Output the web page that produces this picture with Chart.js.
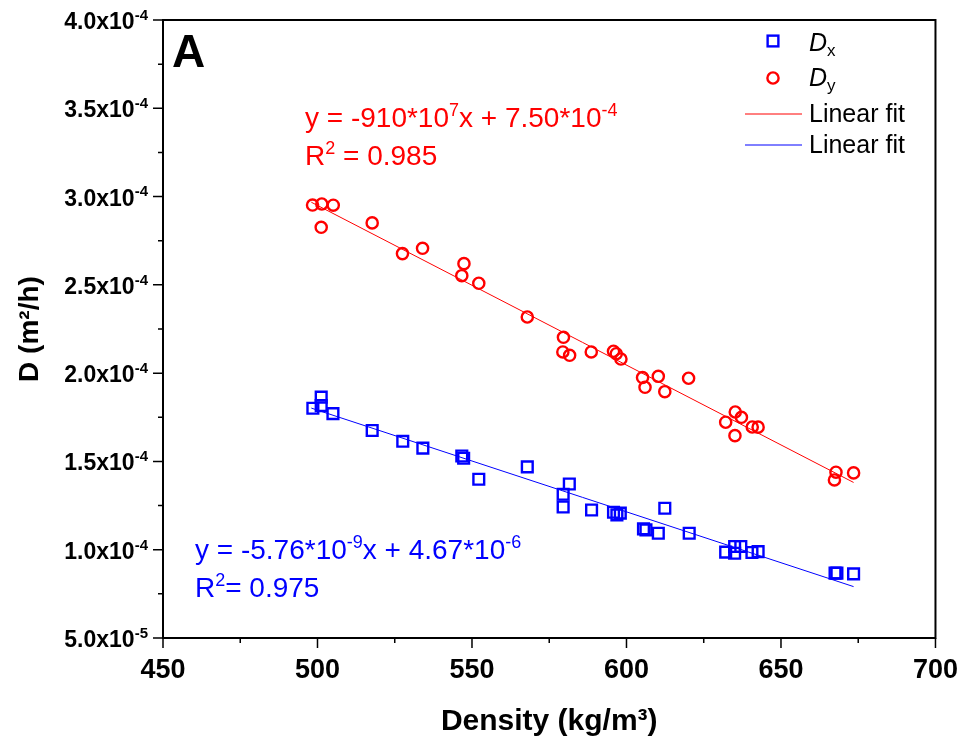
<!DOCTYPE html>
<html>
<head>
<meta charset="utf-8">
<script src="https://cdn.jsdelivr.net/npm/chart.js@4.4.1/dist/chart.umd.min.js"></script>
<style>
html, body { margin: 0; padding: 0; background: #fff; }
#wrap { width: 974px; height: 749px; }
</style>
</head>
<body>
<div id="wrap"><canvas id="myChart" width="974" height="749"></canvas></div>
<script>
// D_x (blue squares)
const densityDx = [498.5, 501.2, 501.2, 505.0, 517.7, 527.6, 534.1, 546.7, 547.3, 552.2, 567.9,
  581.5, 579.5, 579.5, 588.7, 595.8, 596.9, 598.0, 612.4, 605.5, 606.3, 610.3, 620.3,
  632.1, 635.0, 637.0, 635.0, 640.6, 642.6, 667.5, 668.1, 673.5];
const dxValues = [1.801e-4, 1.864e-4, 1.816e-4, 1.771e-4, 1.675e-4, 1.614e-4, 1.575e-4, 1.531e-4, 1.518e-4, 1.399e-4, 1.469e-4,
  1.372e-4, 1.314e-4, 1.242e-4, 1.225e-4, 1.212e-4, 1.197e-4, 1.207e-4, 1.235e-4, 1.118e-4, 1.112e-4, 1.093e-4, 1.093e-4,
  0.986e-4, 1.018e-4, 1.018e-4, 0.980e-4, 0.984e-4, 0.989e-4, 0.867e-4, 0.867e-4, 0.863e-4];

// D_y (red circles)
const densityDy = [498.4, 501.4, 505.1, 501.2, 517.7, 527.5, 534.0, 547.4, 546.7, 552.2, 567.9,
  579.6, 579.4, 581.6, 588.6, 595.8, 596.7, 598.2, 605.2, 606.0, 610.3, 612.4, 620.1,
  632.1, 635.2, 637.2, 635.1, 640.7, 642.6, 667.8, 667.3, 673.5];
const dyValues = [2.952e-4, 2.958e-4, 2.951e-4, 2.826e-4, 2.851e-4, 2.677e-4, 2.707e-4, 2.620e-4, 2.552e-4, 2.509e-4, 2.318e-4,
  2.203e-4, 2.120e-4, 2.101e-4, 2.120e-4, 2.124e-4, 2.110e-4, 2.080e-4, 1.975e-4, 1.920e-4, 1.982e-4, 1.895e-4, 1.971e-4,
  1.722e-4, 1.780e-4, 1.750e-4, 1.646e-4, 1.695e-4, 1.694e-4, 1.439e-4, 1.395e-4, 1.435e-4];

// linear fits (end points)
const fitDyX = [498, 673.5];
const fitDyY = [2.968e-4, 1.381e-4];
const fitDxX = [498, 673.5];
const fitDxY = [1.802e-4, 0.791e-4];

// axes
const xTicks = [450, 500, 550, 600, 650, 700];
const yTicks = [0.5e-4, 1.0e-4, 1.5e-4, 2.0e-4, 2.5e-4, 3.0e-4, 3.5e-4, 4.0e-4];
const yTickLabels = ['5.0x10', '1.0x10', '1.5x10', '2.0x10', '2.5x10', '3.0x10', '3.5x10', '4.0x10'];
const yTickExps = ['-5', '-4', '-4', '-4', '-4', '-4', '-4', '-4'];

const FONT = "'Liberation Sans', Arial, sans-serif";
const RED = '#FF0000';
const BLUE = '#0000FF';

function toPoints(xs, ys) {
  return xs.map((x, i) => ({ x: x, y: ys[i] }));
}

// draw a run of text pieces: [text, kind, italic] kind 0 normal, 1 superscript, 2 subscript
function drawRich(ctx, parts, x, y, size, opts) {
  opts = opts || {};
  let cx = x;
  parts.forEach(p => {
    const kind = p[1] || 0;
    const s = kind ? Math.round(size * 0.66) : size;
    const style = (p[2] ? 'italic ' : '') + (opts.bold ? 'bold ' : '');
    ctx.font = style + s + 'px ' + FONT;
    let yy = y;
    if (kind === 1) yy = y - size * 0.4;
    if (kind === 2) yy = y + size * 0.2;
    if (!opts.measure) ctx.fillText(p[0], cx, yy);
    cx += ctx.measureText(p[0]).width;
  });
  return cx - x;
}

const decorPlugin = {
  id: 'decor',
  afterDraw(chart) {
    const ctx = chart.ctx;
    const area = chart.chartArea;
    const xs = chart.scales.x;
    const ys = chart.scales.y;
    const ds = chart.data.datasets;
    ctx.save();
    ctx.strokeStyle = '#000';
    ctx.fillStyle = '#000';
    ctx.lineWidth = 2;
    ctx.strokeRect(area.left, area.top, area.right - area.left, area.bottom - area.top);

    // ticks
    ctx.lineWidth = 1.5;
    ctx.beginPath();
    xTicks.forEach((v, i) => {
      const px = xs.getPixelForValue(v);
      ctx.moveTo(px, area.bottom);
      ctx.lineTo(px, area.bottom + 10);
      if (i < xTicks.length - 1) {
        const mx = xs.getPixelForValue((v + xTicks[i + 1]) / 2);
        ctx.moveTo(mx, area.bottom);
        ctx.lineTo(mx, area.bottom + 5);
      }
    });
    yTicks.forEach((v, i) => {
      const py = ys.getPixelForValue(v);
      ctx.moveTo(area.left, py);
      ctx.lineTo(area.left - 10, py);
      if (i < yTicks.length - 1) {
        const my = ys.getPixelForValue((v + yTicks[i + 1]) / 2);
        ctx.moveTo(area.left, my);
        ctx.lineTo(area.left - 5, my);
      }
    });
    ctx.stroke();

    // y tick labels with superscripts
    ctx.textAlign = 'left';
    ctx.textBaseline = 'alphabetic';
    yTicks.forEach((v, i) => {
      const py = ys.getPixelForValue(v);
      const parts = [[yTickLabels[i], 0], [yTickExps[i], 1]];
      const w = drawRich(ctx, parts, 0, 0, 23, { bold: true, measure: true });
      drawRich(ctx, parts, area.left - 15 - w, py + 9, 23, { bold: true });
    });

    // panel letter
    ctx.font = 'bold 46px ' + FONT;
    ctx.fillText('A', 172, 67);

    // fit equations
    ctx.fillStyle = RED;
    drawRich(ctx, [['y = -910*10', 0], ['7', 1], ['x + 7.50*10', 0], ['-4', 1]], 305, 127, 28);
    drawRich(ctx, [['R', 0], ['2', 1], [' = 0.985', 0]], 305, 165, 28);
    ctx.fillStyle = BLUE;
    drawRich(ctx, [['y = -5.76*10', 0], ['-9', 1], ['x + 4.67*10', 0], ['-6', 1]], 195, 559, 28);
    drawRich(ctx, [['R', 0], ['2', 1], ['= 0.975', 0]], 195, 597, 28);

    // legend
    const half = ds[0].pointRadius * Math.SQRT1_2;
    ctx.strokeStyle = BLUE;
    ctx.lineWidth = ds[0].borderWidth;
    ctx.strokeRect(773 - half, 41 - half, half * 2, half * 2);
    ctx.beginPath();
    ctx.strokeStyle = RED;
    ctx.lineWidth = ds[1].borderWidth;
    ctx.arc(773, 78, ds[1].pointRadius, 0, Math.PI * 2);
    ctx.stroke();
    ctx.fillStyle = '#000';
    drawRich(ctx, [['D', 0, true], ['x', 2]], 809, 51, 25);
    drawRich(ctx, [['D', 0, true], ['y', 2]], 809, 86, 25);
    ctx.lineWidth = 1;
    ctx.strokeStyle = RED;
    ctx.beginPath(); ctx.moveTo(745, 114); ctx.lineTo(802, 114); ctx.stroke();
    ctx.strokeStyle = BLUE;
    ctx.beginPath(); ctx.moveTo(745, 145); ctx.lineTo(802, 145); ctx.stroke();
    ctx.font = '25px ' + FONT;
    ctx.fillText('Linear fit', 809, 122);
    ctx.fillText('Linear fit', 809, 153);
    ctx.restore();
  }
};

const ctx = document.getElementById('myChart').getContext('2d');
const myChart = new Chart(ctx, {
  type: 'scatter',
  data: {
    datasets: [{
      label: 'Dx',
      data: toPoints(densityDx, dxValues),
      pointStyle: 'rect',
      pointRadius: 7.6,
      borderColor: BLUE,
      backgroundColor: 'rgba(0,0,0,0)',
      borderWidth: 2.4
    }, {
      label: 'Dy',
      data: toPoints(densityDy, dyValues),
      pointStyle: 'circle',
      pointRadius: 5.6,
      borderColor: RED,
      backgroundColor: 'rgba(0,0,0,0)',
      borderWidth: 2.4
    }, {
      type: 'line',
      label: 'Linear fit',
      data: toPoints(fitDyX, fitDyY),
      borderColor: RED,
      borderWidth: 1,
      pointRadius: 0,
      fill: false
    }, {
      type: 'line',
      label: 'Linear fit',
      data: toPoints(fitDxX, fitDxY),
      borderColor: BLUE,
      borderWidth: 1,
      pointRadius: 0,
      fill: false
    }]
  },
  options: {
    responsive: false,
    animation: false,
    layout: { padding: { left: 0, right: 37, top: 20, bottom: 0 } },
    plugins: { legend: { display: false }, tooltip: { enabled: false } },
    scales: {
      x: {
        type: 'linear',
        min: 450,
        max: 700,
        grid: { display: false, drawTicks: false },
        border: { display: false },
        ticks: { stepSize: 50, padding: 16, color: '#000', font: { family: FONT, size: 27, weight: 'bold' } },
        title: { display: true, text: 'Density (kg/m³)', color: '#000', font: { family: FONT, size: 30, weight: 'bold' }, padding: { top: 0, bottom: 9 } },
        afterFit: s => { s.height = 111; }
      },
      y: {
        type: 'linear',
        min: 0.5e-4,
        max: 4.0e-4,
        grid: { display: false, drawTicks: false },
        border: { display: false },
        ticks: { display: false, stepSize: 0.5e-4 },
        title: { display: true, text: 'D (m²/h)', color: '#000', font: { family: FONT, size: 28, weight: 'bold' }, padding: { top: 13, bottom: 0 } },
        afterFit: s => { s.width = 163; }
      }
    }
  },
  plugins: [decorPlugin]
});
</script>
</body>
</html>
